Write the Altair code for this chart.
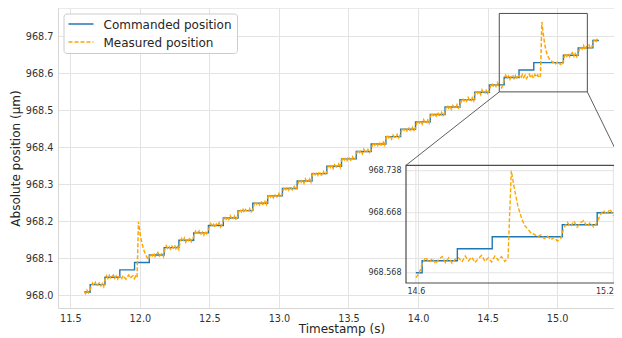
import altair as alt
import numpy as np
import pandas as pd

# ---------------- values ----------------
series_names = ["Commanded position", "Measured position"]

# commanded position: step times (s) and the level held from each time (µm)
cmd_time = [11.600, 11.643, 11.749, 11.856, 11.962, 12.068, 12.175, 12.281, 12.387,
            12.493, 12.600, 12.706, 12.812, 12.919, 13.025, 13.131, 13.238, 13.344,
            13.450, 13.556, 13.663, 13.769, 13.875, 13.982, 14.088, 14.194, 14.301,
            14.407, 14.513, 14.619, 14.726, 14.832, 15.045, 15.151, 15.257, 15.300]
cmd_level = [968.008, 968.028, 968.048, 968.068, 968.088, 968.108, 968.128, 968.148,
             968.168, 968.188, 968.208, 968.228, 968.248, 968.268, 968.288, 968.308,
             968.328, 968.348, 968.368, 968.388, 968.408, 968.428, 968.448, 968.468,
             968.488, 968.508, 968.528, 968.548, 968.568, 968.588, 968.608, 968.628,
             968.648, 968.668, 968.688, 968.688]

# measured position, sampled every 10 ms from 11.60 s, in nm above 968 µm
meas_t0 = 11.60
meas_dt = 0.01
meas_nm = [
    10, 4, 13, 6, 11,
    23, 32, 26, 34, 24, 30, 33, 25, 31, 23,
    43, 52, 45, 53, 44, 50, 54, 45, 51, 43, 49,
    51, 45, 53, 47, 43, 50, 54, 45, 49, 52, 44, 51, 47,
    198, 170, 148, 133, 120, 110, 103, 96,
    103, 112, 106, 114, 104, 110, 115, 105, 109, 113, 104,
    123, 133, 126, 131, 124, 132, 127, 135, 125, 131, 123,
    144, 152, 145, 154, 143, 151, 147, 155, 144, 150,
    163, 172, 164, 171, 174, 165, 170, 162, 173, 166, 171,
    184, 193, 185, 191, 182, 192, 187, 195, 184, 190,
    203, 212, 205, 211, 204, 214, 207, 203, 213, 205, 210,
    224, 232, 225, 234, 223, 231, 227, 224, 233, 225, 231,
    243, 252, 245, 251, 244, 254, 247, 242, 253, 245,
    264, 273, 265, 271, 263, 272, 267, 264, 274, 265, 270,
    283, 292, 285, 291, 284, 294, 287, 282, 293, 285, 291,
    304, 312, 305, 311, 302, 314, 307, 304, 313, 305,
    323, 332, 325, 331, 324, 334, 327, 322, 333, 325, 331,
    344, 353, 345, 351, 342, 352, 347, 344, 354, 345,
    363, 372, 365, 371, 364, 374, 367, 362, 373, 365, 371,
    384, 392, 385, 391, 382, 394, 387, 384, 393, 385, 391,
    403, 412, 405, 411, 404, 414, 407, 402, 413, 405,
    424, 433, 425, 431, 422, 432, 427, 424, 434, 425, 431,
    443, 452, 445, 451, 444, 454, 447, 442, 453, 445, 451,
    464, 472, 465, 471, 462, 474, 467, 464, 473, 465,
    483, 492, 485, 491, 484, 494, 487, 482, 493, 485, 491,
    504, 513, 505, 511, 502, 512, 507, 504, 514, 505, 511,
    523, 532, 525, 531, 524, 534, 527, 522, 533, 525,
    544, 552, 545, 551, 542, 554, 547, 544, 553, 545, 551,
    563, 572, 565, 571, 564, 574, 567, 563, 560, 567,
    584, 594, 585, 592, 583, 591, 595, 585, 593, 584, 591,
    593, 586, 596, 588, 594, 585, 592, 597, 587, 593, 586, 596, 589, 595, 587, 593,
    738, 706, 679, 661, 647, 641, 634, 632, 628, 631, 625, 629, 623, 627, 621, 625,
    643, 652, 645, 654, 644, 651, 655, 645, 652, 644, 651,
    664, 672, 665, 674, 663, 671, 667, 675, 664, 671,
    684, 692, 686, 693, 689,
]

x_ticks = [11.5, 12.0, 12.5, 13.0, 13.5, 14.0, 14.5, 15.0]
y_ticks = [968.0, 968.1, 968.2, 968.3, 968.4, 968.5, 968.6, 968.7]
inset_x_ticks = [14.6, 15.2]
inset_y_ticks = [968.568, 968.668, 968.738]
zoom_span = [14.6, 15.2]                           # time slice shown in the inset
zoom_rect = [14.584, 15.217, 968.549, 968.761]     # marked region on the main plot
inset_dom_x = [14.57, 15.23]
inset_dom_y = [968.551, 968.747]

# ---------------- layout ----------------
W, H = 556, 300
PX_PER_S = 139.1
X_DOM = [11.4116, 11.4116 + W / PX_PER_S]
Y_DOM = [967.9649, 968.7757]
INSET_PX = {"x0": 348.0, "x1": 565.2, "y0": 157.3, "y1": 275.0}
XTITLE_CENTER = 283.4   # the reference's axes run a little past the page edge

BLUE = "#1f77b4"
ORANGE = "#ffa500"
GRID = "#e3e3e3"
FRAME = "#d6d6d6"
EDGE = "#4d4d4d"
TXT = "#333333"
FONT = "DejaVu Sans"

# ---------------- tables ----------------
cmd_df = pd.DataFrame({"t": cmd_time, "v": cmd_level, "series": series_names[0]})
meas_t = np.round(meas_t0 + meas_dt * np.arange(len(meas_nm)), 3)
meas_df = pd.DataFrame({"t": meas_t, "v": 968.0 + np.array(meas_nm) / 1000.0,
                        "series": series_names[1]})


def level_at(t):
    idx = max(i for i, ct in enumerate(cmd_time) if ct <= t + 1e-9)
    return cmd_level[idx]


inner = cmd_df[(cmd_df.t > zoom_span[0]) & (cmd_df.t < zoom_span[1])]
cmd_in = pd.concat([
    pd.DataFrame({"t": [zoom_span[0]], "v": [level_at(zoom_span[0])]}),
    inner[["t", "v"]],
    pd.DataFrame({"t": [zoom_span[1]], "v": [level_at(zoom_span[1])]}),
], ignore_index=True)
meas_in = meas_df[(meas_df.t >= zoom_span[0] - 1e-9) & (meas_df.t <= zoom_span[1] + 1e-9)][["t", "v"]]


def px_to_x(px):
    return X_DOM[0] + px / W * (X_DOM[1] - X_DOM[0])


def px_to_y(py):
    return Y_DOM[1] - py / H * (Y_DOM[1] - Y_DOM[0])


rect_df = pd.DataFrame({"x0": [zoom_rect[0]], "x1": [zoom_rect[1]],
                        "y0": [zoom_rect[2]], "y1": [zoom_rect[3]]})
conn_df = pd.DataFrame({
    "x0": [zoom_rect[0], zoom_rect[1]],
    "y0": [zoom_rect[2], zoom_rect[2]],
    "x1": [px_to_x(INSET_PX["x0"]), px_to_x(INSET_PX["x1"])],
    "y1": [px_to_y(INSET_PX["y0"]), px_to_y(INSET_PX["y0"])],
})
one = pd.DataFrame({"k": [0]})

# ---------------- main panel ----------------
xs_main = alt.Scale(domain=X_DOM, nice=False, zero=False)
ys_main = alt.Scale(domain=Y_DOM, nice=False, zero=False)
x_axis = alt.Axis(values=x_ticks, format=".1f", title="Timestamp (s)", grid=True,
                  gridColor=GRID, domain=True, domainColor=FRAME, ticks=False, tickSize=0,
                  labelFontSize=9.7, labelColor=TXT, labelPadding=5, labelFont=FONT,
                  titleFontSize=12, titleColor="#262626", titlePadding=1,
                  titleX=XTITLE_CENTER, titleAlign="center",
                  titleFont=FONT, titleFontWeight="normal", labelFlush=False,
                  labelOverlap=False)
y_axis = alt.Axis(values=y_ticks, format=".1f", title="Absolute position (µm)", grid=True,
                  gridColor=GRID, domain=True, domainColor=FRAME, ticks=False, tickSize=0,
                  labelFontSize=9.7, labelColor=TXT, labelPadding=5, labelFont=FONT,
                  titleFontSize=12, titleColor="#262626", titlePadding=3,
                  titleFont=FONT, titleFontWeight="normal", labelOverlap=False)

color_enc = alt.Color("series:N", scale=alt.Scale(domain=series_names, range=[BLUE, ORANGE]),
                      legend=None)
dash_enc = alt.StrokeDash("series:N", scale=alt.Scale(domain=series_names, range=[[1, 0], [4, 2]]),
                          legend=None)

cmd_line = alt.Chart(cmd_df).mark_line(interpolate="step-after", strokeWidth=1.4).encode(
    x=alt.X("t:Q", scale=xs_main, axis=x_axis),
    y=alt.Y("v:Q", scale=ys_main, axis=y_axis),
    color=color_enc, strokeDash=dash_enc)
meas_line = alt.Chart(meas_df).mark_line(strokeWidth=1.5).encode(
    x=alt.X("t:Q", scale=xs_main, axis=x_axis),
    y=alt.Y("v:Q", scale=ys_main, axis=y_axis),
    color=color_enc, strokeDash=dash_enc)
zoom_box = alt.Chart(rect_df).mark_rect(fillOpacity=0, stroke=EDGE, strokeWidth=1).encode(
    x=alt.X("x0:Q", scale=xs_main, axis=x_axis), x2="x1:Q",
    y=alt.Y("y0:Q", scale=ys_main, axis=y_axis), y2="y1:Q")
connectors = alt.Chart(conn_df).mark_rule(color=EDGE, strokeWidth=0.9).encode(
    x=alt.X("x0:Q", scale=xs_main, axis=x_axis), x2="x1:Q",
    y=alt.Y("y0:Q", scale=ys_main, axis=y_axis), y2="y1:Q")
top_edge = alt.Chart(one).mark_rule(color=FRAME, strokeWidth=1).encode(
    x=alt.value(0), x2=alt.value(W), y=alt.value(0))

# hand-drawn legend box (matplotlib style)
leg_box = alt.Chart(one).mark_rect(fill="white", fillOpacity=0.85, stroke="#cccccc",
                                   strokeWidth=1, cornerRadius=3).encode(
    x=alt.value(6), x2=alt.value(179.5), y=alt.value(6), y2=alt.value(45.5))
leg_l1 = alt.Chart(one).mark_rule(color=BLUE, strokeWidth=1.5).encode(
    x=alt.value(10.5), x2=alt.value(35.5), y=alt.value(16))
leg_l2 = alt.Chart(one).mark_rule(color=ORANGE, strokeWidth=1.5, strokeDash=[4, 2]).encode(
    x=alt.value(10.5), x2=alt.value(35.5), y=alt.value(34))
leg_t1 = alt.Chart(one).mark_text(align="left", baseline="middle", fontSize=12,
                                  font=FONT, color="#262626").encode(
    x=alt.value(45.5), y=alt.value(16.5), text=alt.value(series_names[0]))
leg_t2 = alt.Chart(one).mark_text(align="left", baseline="middle", fontSize=12,
                                  font=FONT, color="#262626").encode(
    x=alt.value(45.5), y=alt.value(34.5), text=alt.value(series_names[1]))

main = alt.layer(top_edge, cmd_line, meas_line, zoom_box, connectors,
                 leg_box, leg_l1, leg_l2, leg_t1, leg_t2)

# ---------------- inset panel ----------------
xs_in = alt.Scale(domain=inset_dom_x, range=[INSET_PX["x0"], INSET_PX["x1"]], nice=False, zero=False)
ys_in = alt.Scale(domain=inset_dom_y, range=[INSET_PX["y1"], INSET_PX["y0"]], nice=False, zero=False)
xi_axis = alt.Axis(orient="bottom", offset=-(H - INSET_PX["y1"]), values=inset_x_ticks,
                   format=".1f", title=None, grid=False, domain=False, ticks=False, tickSize=0,
                   labelFontSize=8, labelColor=TXT, labelPadding=4, labelFont=FONT,
                   labelAlign=alt.condition("datum.value > 15", alt.value("right"), alt.value("center")),
                   labelFlush=False, labelOverlap=False)
yi_axis = alt.Axis(orient="left", offset=-INSET_PX["x0"], values=inset_y_ticks,
                   format=".3f", title=None, grid=False, domain=False, ticks=False, tickSize=0,
                   labelFontSize=8, labelColor=TXT, labelPadding=5, labelFont=FONT,
                   labelOverlap=False)

grid_v = pd.DataFrame({"t": inset_x_ticks, "y0": inset_dom_y[0], "y1": inset_dom_y[1]})
grid_h = pd.DataFrame({"v": inset_y_ticks, "x0": inset_dom_x[0], "x1": inset_dom_x[1]})
frame_df = pd.DataFrame({"x0": [inset_dom_x[0]], "x1": [inset_dom_x[1]],
                         "y0": [inset_dom_y[0]], "y1": [inset_dom_y[1]]})

in_grid_v = alt.Chart(grid_v).mark_rule(color=GRID, strokeWidth=1).encode(
    x=alt.X("t:Q", scale=xs_in, axis=xi_axis),
    y=alt.Y("y0:Q", scale=ys_in, axis=yi_axis), y2="y1:Q")
in_grid_h = alt.Chart(grid_h).mark_rule(color=GRID, strokeWidth=1).encode(
    x=alt.X("x0:Q", scale=xs_in, axis=xi_axis), x2="x1:Q",
    y=alt.Y("v:Q", scale=ys_in, axis=yi_axis))
in_frame = alt.Chart(frame_df).mark_rect(fillOpacity=0, stroke=EDGE, strokeWidth=1.2).encode(
    x=alt.X("x0:Q", scale=xs_in, axis=xi_axis), x2="x1:Q",
    y=alt.Y("y0:Q", scale=ys_in, axis=yi_axis), y2="y1:Q")
in_cmd = alt.Chart(cmd_in).mark_line(interpolate="step-after", strokeWidth=1.4, color=BLUE).encode(
    x=alt.X("t:Q", scale=xs_in, axis=xi_axis),
    y=alt.Y("v:Q", scale=ys_in, axis=yi_axis))
in_meas = alt.Chart(meas_in).mark_line(strokeWidth=1.4, color=ORANGE, strokeDash=[4, 2]).encode(
    x=alt.X("t:Q", scale=xs_in, axis=xi_axis),
    y=alt.Y("v:Q", scale=ys_in, axis=yi_axis))

inset = alt.layer(in_grid_v, in_grid_h, in_frame, in_cmd, in_meas)

chart = alt.layer(main, inset).resolve_scale(x="independent", y="independent").properties(
    width=W, height=H,
    padding={"left": 50, "top": 0, "right": 0, "bottom": 30},
    autosize=alt.AutoSizeParams(type="none"),
).configure(font=FONT).configure_view(strokeWidth=0)

chart.save("out.html", embed_options={"renderer": "svg", "actions": False})
